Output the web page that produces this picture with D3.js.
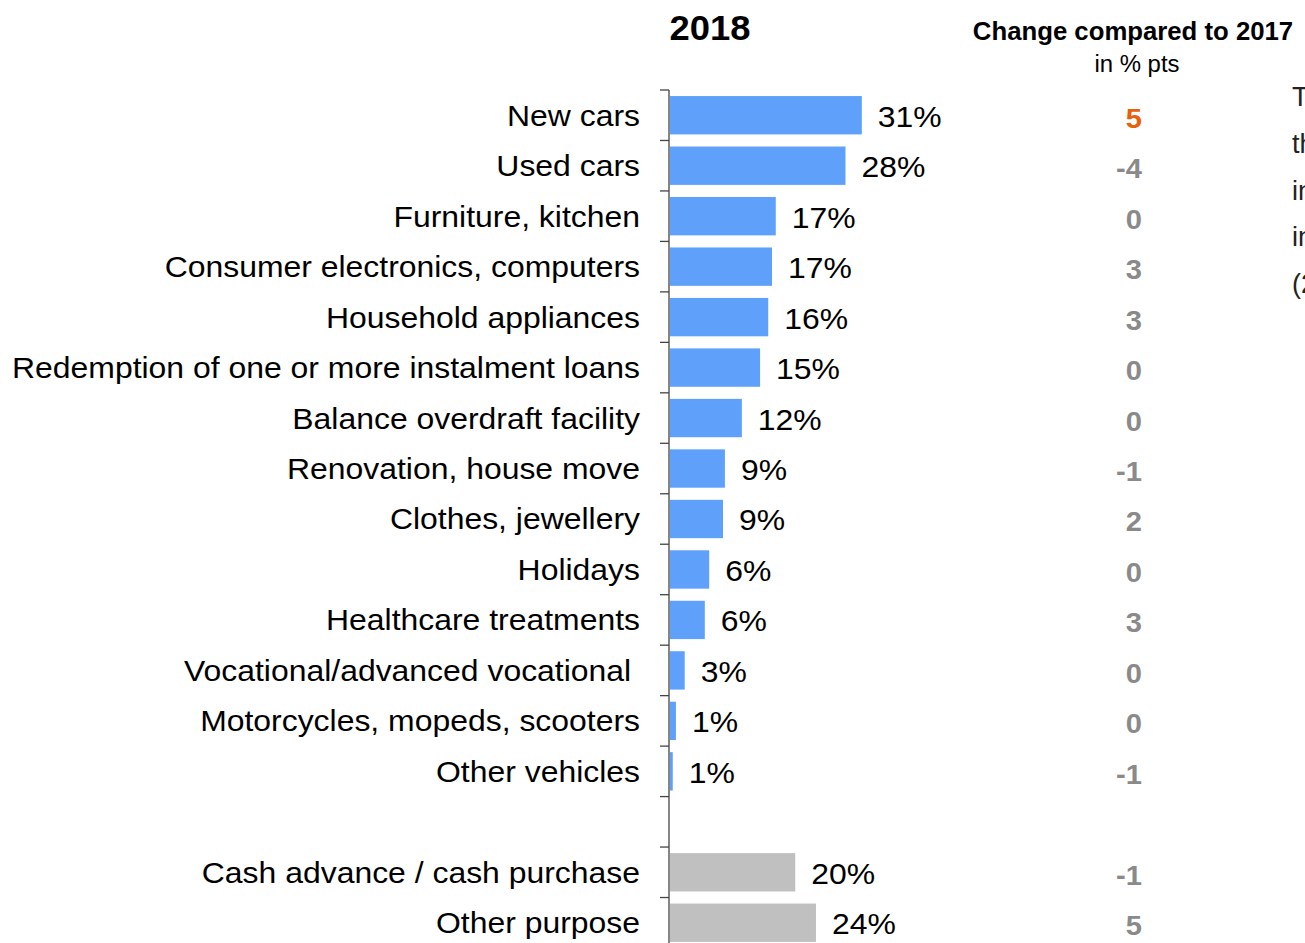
<!DOCTYPE html>
<html>
<head>
<meta charset="utf-8">
<script src="https://cdn.jsdelivr.net/npm/d3@7"></script>
<style>
  body { margin: 0; background: #fff; }
  text { font-family: "Liberation Sans", Arial, sans-serif; }
</style>
</head>
<body>
<script>
// categories (blank row between the two groups)
const categories = [
  "New cars", "Used cars", "Furniture, kitchen", "Consumer electronics, computers",
  "Household appliances", "Redemption of one or more instalment loans",
  "Balance overdraft facility", "Renovation, house move", "Clothes, jewellery",
  "Holidays", "Healthcare treatments", "Vocational/advanced vocational ",
  "Motorcycles, mopeds, scooters", "Other vehicles", "",
  "Cash advance / cash purchase", "Other purpose"
];
// share in 2018, % (estimated bar lengths)
const values2018 = [30.7, 28.1, 17.0, 16.4, 15.8, 14.5, 11.6, 8.9, 8.6, 6.4, 5.7, 2.5, 1.1, 0.6, null, 20.1, 23.4];
const valueLabels = ["31%", "28%", "17%", "17%", "16%", "15%", "12%", "9%", "9%", "6%", "6%", "3%", "1%", "1%", "", "20%", "24%"];
// change compared to 2017, % pts
const changes = ["5", "-4", "0", "3", "3", "0", "0", "-1", "2", "0", "3", "0", "0", "-1", "", "-1", "5"];
const groups = ["a", "a", "a", "a", "a", "a", "a", "a", "a", "a", "a", "a", "a", "a", "", "b", "b"];
const sideText = ["The", "the", "in", "in", "(2017)"];

const width = 1305, height = 943;
const x0 = 669;
const stretch = 1.064; // the source text is slightly wide

const svg = d3.select("body").append("svg")
  .attr("width", width)
  .attr("height", height);

const idx = d3.range(categories.length);

const y = d3.scaleBand()
  .domain(idx)
  .range([90, 90 + 17 * 50.47])
  .paddingInner(0.24)
  .paddingOuter(0.12);

const x = d3.scaleLinear()
  .domain([0, 31])
  .range([x0, x0 + 194.7]);

const pos = (tx, ty, s) => `translate(${tx},${ty}) scale(${s || stretch},1)`;

// axis line + ticks at band boundaries
const axis = svg.append("g");
axis.append("line")
  .attr("x1", x0).attr("x2", x0)
  .attr("y1", 90).attr("y2", height)
  .attr("stroke", "#444").attr("stroke-width", 1.3);
idx.forEach(i => {
  const ty = y(i) - y.step() * y.paddingOuter();
  axis.append("line")
    .attr("x1", x0 - 9).attr("x2", x0)
    .attr("y1", ty).attr("y2", ty)
    .attr("stroke", "#444").attr("stroke-width", 1.3);
});

// bars
svg.append("g").selectAll("rect")
  .data(idx.filter(i => values2018[i] != null))
  .join("rect")
  .attr("x", x0 + 1)
  .attr("y", i => y(i))
  .attr("width", i => x(values2018[i]) - x0 - 1)
  .attr("height", y.bandwidth())
  .attr("fill", i => groups[i] === "b" ? "#c0c0c0" : "#5ea0fa");

// category labels
svg.append("g").selectAll("text")
  .data(idx)
  .join("text")
  .attr("transform", i => pos(640, y(i) + y.bandwidth() / 2 + 10.5))
  .attr("text-anchor", "end")
  .attr("font-size", 30)
  .attr("fill", "#000")
  .style("white-space", "pre")
  .text(i => categories[i]);

// value labels
svg.append("g").selectAll("text")
  .data(idx.filter(i => values2018[i] != null))
  .join("text")
  .attr("transform", i => pos(x(values2018[i]) + 16, y(i) + y.bandwidth() / 2 + 11.5))
  .attr("font-size", 30)
  .attr("fill", "#000")
  .text(i => valueLabels[i]);

// change column
svg.append("g").selectAll("text")
  .data(idx)
  .join("text")
  .attr("transform", i => pos(1142, y(i) + y.bandwidth() / 2 + 12.5, 1.04))
  .attr("text-anchor", "end")
  .attr("font-size", 28)
  .attr("font-weight", "bold")
  .attr("fill", (d, i) => i === 0 ? "#e8600a" : "#8a8a8a")
  .text(i => changes[i]);

// headers
svg.append("text")
  .attr("transform", pos(710, 40, 1.04))
  .attr("text-anchor", "middle")
  .attr("font-size", 35).attr("font-weight", "bold")
  .text("2018");
svg.append("text")
  .attr("transform", pos(1133, 40, 1.03))
  .attr("text-anchor", "middle")
  .attr("font-size", 25).attr("font-weight", "bold")
  .text("Change compared to 2017");
svg.append("text")
  .attr("transform", pos(1137, 72, 1.04))
  .attr("text-anchor", "middle")
  .attr("font-size", 23)
  .text("in % pts");

// text running off the right edge
svg.append("g").selectAll("text")
  .data(sideText)
  .join("text")
  .attr("x", 1292)
  .attr("y", (d, i) => 106 + i * 46.8)
  .attr("font-family", "Open Sans, sans-serif")
  .attr("font-size", 27)
  .attr("fill", "#222")
  .text(d => d);
</script>
</body>
</html>
